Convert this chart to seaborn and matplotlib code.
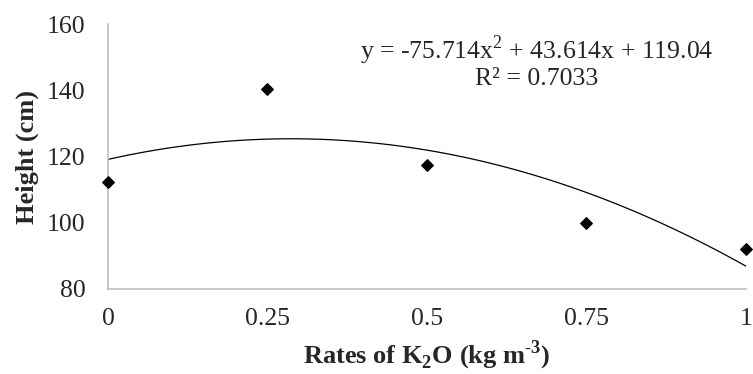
import seaborn as sns
import pandas as pd
import matplotlib.pyplot as plt

# data
rates = [0, 0.25, 0.5, 0.75, 1]
height = [112.3, 140.4, 117.4, 100.0, 92.2]
x_ticks = [0, 0.25, 0.5, 0.75, 1]
x_ticklabels = ['0', '0.25', '0.5', '0.75', '1']
y_ticks = [80, 100, 120, 140, 160]
eq_text = 'y = -75.714x$^2$ + 43.614x + 119.04\nR² = 0.7033'

df = pd.DataFrame({'rate': rates, 'height': height})

sns.set_style('white')
plt.rcParams['font.family'] = ['Liberation Serif', 'DejaVu Serif']
plt.rcParams['mathtext.fontset'] = 'custom'
plt.rcParams['mathtext.rm'] = 'Liberation Serif'
plt.rcParams['mathtext.bf'] = 'Liberation Serif:bold'

fig = plt.figure(figsize=(7.53, 3.74), dpi=100)
ax = fig.add_axes([0.1434, 0.2273, 0.8473, 0.7085])

sns.regplot(data=df, x='rate', y='height', order=2, ci=None, ax=ax,
            marker='D', color='black',
            scatter_kws={'s': 34, 'alpha': 1, 'clip_on': False, 'zorder': 3},
            line_kws={'lw': 0.9, 'color': 'black'})

ax.set_xlim(0, 1)
ax.set_ylim(80, 160)
ax.set_xticks(x_ticks)
ax.set_xticklabels(x_ticklabels)
ax.set_yticks(y_ticks)
ax.tick_params(axis='both', length=0, labelsize=18.5)
ax.tick_params(axis='x', pad=14)
ax.tick_params(axis='y', pad=16)

for s in ['top', 'right']:
    ax.spines[s].set_visible(False)
for s in ['left', 'bottom']:
    ax.spines[s].set_color('#bfbfbf')
    ax.spines[s].set_linewidth(1.2)

ax.set_xlabel(r'Rates of K$_\mathbf{2}$O (kg m$^{\mathbf{\text{-}3}}$)', fontsize=19,
              fontweight='bold', labelpad=6)
ax.set_ylabel('Height (cm)', fontsize=19, fontweight='bold', labelpad=6)

ax.text(0.672, 0.965, eq_text, transform=ax.transAxes, ha='center', va='top',
        fontsize=18.5, linespacing=1.05)

fig.savefig('out.png', dpi=100)
